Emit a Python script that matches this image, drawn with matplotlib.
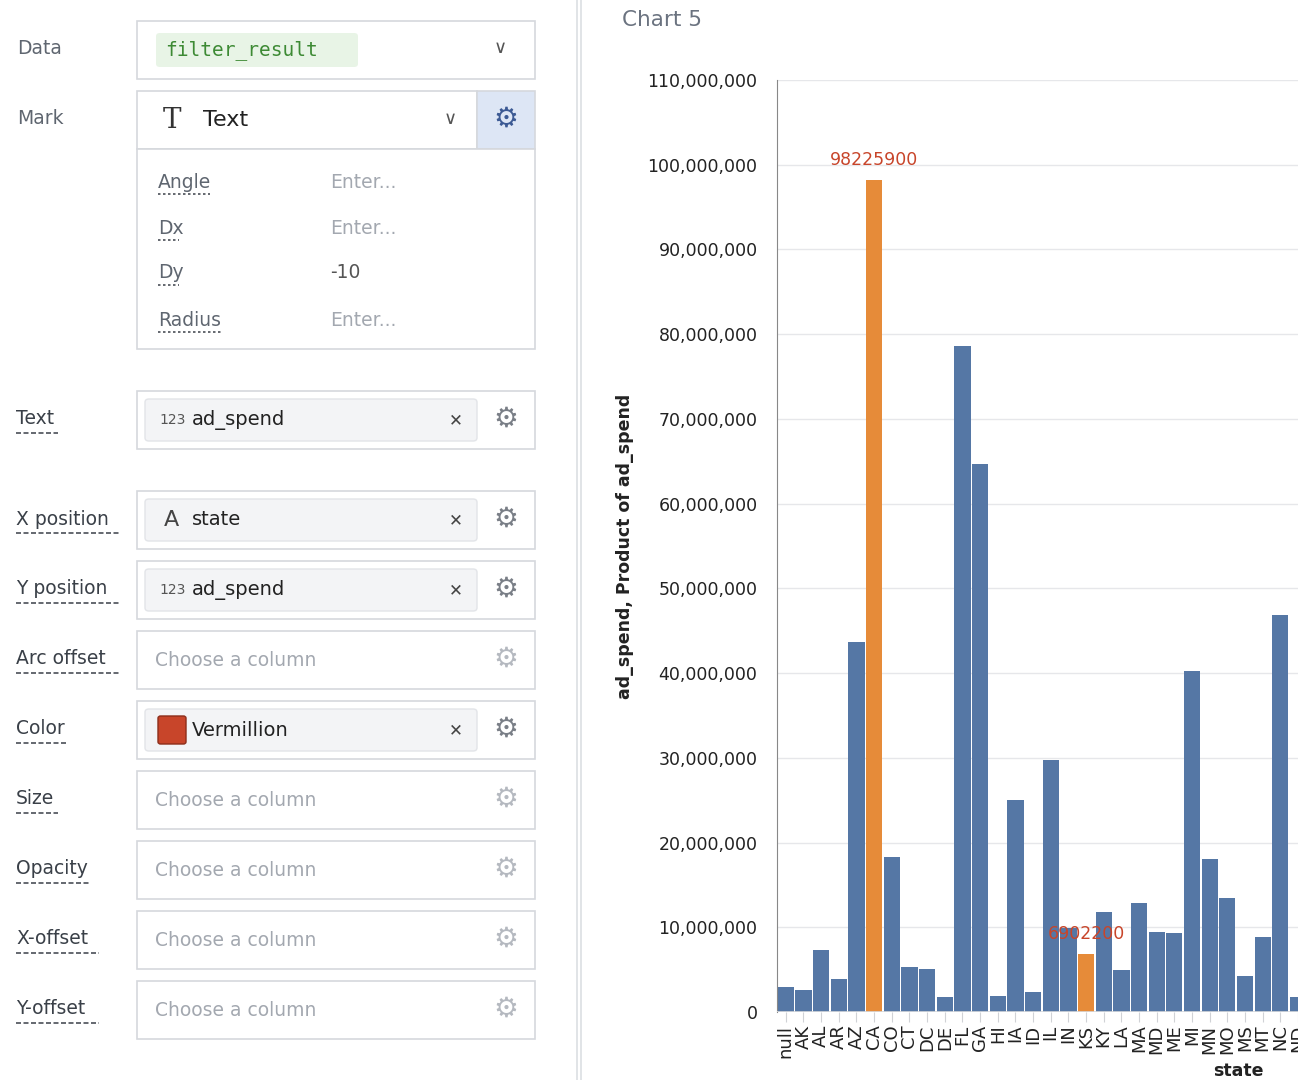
import matplotlib
matplotlib.use("Agg")
import matplotlib.pyplot as plt
from matplotlib.patches import Rectangle, FancyBboxPatch
from matplotlib.lines import Line2D

states = ["null","AK","AL","AR","AZ","CA","CO","CT","DC","DE","FL","GA","HI","IA","ID",
          "IL","IN","KS","KY","LA","MA","MD","ME","MI","MN","MO","MS","MT","NC","ND"]
ad_spend = [3.0e6,2.6e6,7.3e6,3.9e6,43.7e6,98225900,18.3e6,5.3e6,5.1e6,1.8e6,78.6e6,64.7e6,
            1.9e6,25.0e6,2.4e6,29.8e6,9.9e6,6902200,11.8e6,5.0e6,12.9e6,9.4e6,9.3e6,40.3e6,
            18.1e6,13.4e6,4.3e6,8.9e6,46.9e6,1.8e6]
highlight = ["CA","KS"]
yticks = list(range(0, 110_000_001, 10_000_000))

W, H = 1298, 1080
fig = plt.figure(figsize=(W/100, H/100), dpi=100)
fig.patch.set_facecolor("white")

def fx(x): return x / W
def fy(y): return 1 - y / H

def rect(x0, y0, x1, y1, fc="white", ec="#d5d8dd", lw=1.2, z=1):
    fig.add_artist(Rectangle((fx(x0), fy(y1)), fx(x1) - fx(x0), fy(y0) - fy(y1),
                             transform=fig.transFigure, fc=fc, ec=ec, lw=lw, zorder=z))

def rrect(x0, y0, x1, y1, fc, ec="none", z=2, r=0.003):
    fig.add_artist(FancyBboxPatch((fx(x0), fy(y1)), fx(x1) - fx(x0), fy(y0) - fy(y1),
                                  boxstyle=f"round,pad=0,rounding_size={r}",
                                  transform=fig.transFigure, fc=fc, ec=ec, lw=1, zorder=z))

def txt(x, y, s, size=12, color="#2b2f36", ha="left", **kw):
    fig.text(fx(x), fy(y), s, fontsize=size, color=color, ha=ha, va="center",
             zorder=5, **kw)

def uline(x0, x1, y, style=(0, (1.5, 1.5))):
    fig.add_artist(Line2D([fx(x0), fx(x1)], [fy(y), fy(y)], transform=fig.transFigure,
                          color="#4a4f57", lw=1.2, linestyle=style, zorder=5))

GEAR = "\u2699"
lab = "#5f6670"
ph = "#a3a8b0"

# Data row
txt(17, 49, "Data", 13.5, lab)
rect(137, 21, 535, 79)
rrect(156, 33, 358, 67, "#e8f4e6")
txt(165, 50, "filter_result", 14, "#3d8a34", family="DejaVu Sans Mono")
txt(500, 48, "\u2228", 13, "#555", ha="center")

# Mark row
txt(17, 119, "Mark", 13.5, lab)
rect(137, 91, 477, 149)
txt(172, 120, "T", 20, "#333", ha="center", family="DejaVu Serif")
txt(203, 120, "Text", 16, "#222")
txt(450, 119, "\u2228", 13, "#555", ha="center")
rect(477, 91, 535, 149, fc="#dde6f5")
txt(506, 119, GEAR, 20, "#3c5a94", ha="center")
rect(137, 149, 535, 349)
for y, l, v in [(182, "Angle", "Enter..."), (228, "Dx", "Enter..."), (273, "Dy", "-10"), (320, "Radius", "Enter...")]:
    txt(158, y, l, 13.5, lab)
    uline(158, 158 + 10.5 * len(l), y + 12)
    txt(330, y, v, 13.5, ph if v.startswith("Enter") else "#555")

rows = [(420, "Text", "123", "ad_spend"), (520, "X position", "A", "state"),
        (590, "Y position", "123", "ad_spend"), (660, "Arc offset", None, None),
        (730, "Color", "sw", "Vermillion"), (800, "Size", None, None),
        (870, "Opacity", None, None), (940, "X-offset", None, None),
        (1010, "Y-offset", None, None)]
for y, l, icon, val in rows:
    txt(16, y - 1, l, 13.5, "#3a4048")
    uline(16, 16 + 10.4 * len(l), y + 13, (0, (3, 1.5)))
    rect(137, y - 29, 535, y + 29)
    if val is None:
        txt(155, y, "Choose a column", 13.5, ph)
        txt(506, y - 1, GEAR, 20, "#b5b9c0", ha="center")
    else:
        rrect(145, y - 21, 477, y + 21, "#f3f4f6", ec="#e2e4e8")
        if icon == "123":
            txt(159, y, "123", 10, "#555")
        elif icon == "A":
            txt(171, y, "A", 16, "#444", ha="center")
        else:
            rrect(158, y - 14, 186, y + 14, "#c8452a", ec="#8c2d1a", r=0.002)
        txt(192, y, val, 14, "#222")
        txt(456, y, "\u2715", 12, "#444", ha="center", fontweight="bold")
        txt(506, y - 1, GEAR, 20, "#7a7f87", ha="center")

# divider
for x in (577, 581):
    fig.add_artist(Line2D([fx(x), fx(x)], [0, 1], transform=fig.transFigure, color="#dcdfe3", lw=1.2))

# Chart
txt(622, 20, "Chart 5", 15.5, "#6b7380")
ax = fig.add_axes([fx(777), fy(1012), fx(1298) - fx(777), fy(80) - fy(1012)])
xs = list(range(len(states)))
colors = ["#e68b39" if s in highlight else "#5577a5" for s in states]
ax.bar(xs, ad_spend, width=0.92, color=colors, zorder=2)
ax.set_xlim(-0.5, -0.5 + 521 / 17.75)
ax.set_ylim(0, 110_000_000)
ax.set_yticks(yticks)
ax.set_yticklabels([f"{v:,}" for v in yticks], fontsize=12.5, color="#222")
ax.set_xticks(xs)
ax.set_xticklabels(states, rotation=90, fontsize=13, color="#222")
ax.grid(axis="y", color="#e6e7ea", lw=1, zorder=0)
for s in ["top", "right", "bottom"]:
    ax.spines[s].set_visible(False)
ax.spines["left"].set_color("#888")
ax.tick_params(axis="y", length=0, pad=14)
ax.tick_params(axis="x", length=7, color="#d0d2d6", pad=2)
ax.axhline(0, color="#d8dadd", lw=1.2, zorder=3)
for i, s in enumerate(states):
    if s in highlight:
        ax.text(i, ad_spend[i] + 1.3e6, f"{int(ad_spend[i])}", ha="center", va="bottom",
                fontsize=12.5, color="#c8452a", zorder=4)
fig.text(fx(625), fy(546), "ad_spend, Product of ad_spend", rotation=90, fontsize=12.5,
         fontweight="bold", ha="center", va="center", color="#222")
fig.text(fx(1238), fy(1071), "state", fontsize=12.5, fontweight="bold", ha="center",
         va="center", color="#222")

fig.savefig("out.png", dpi=100)
